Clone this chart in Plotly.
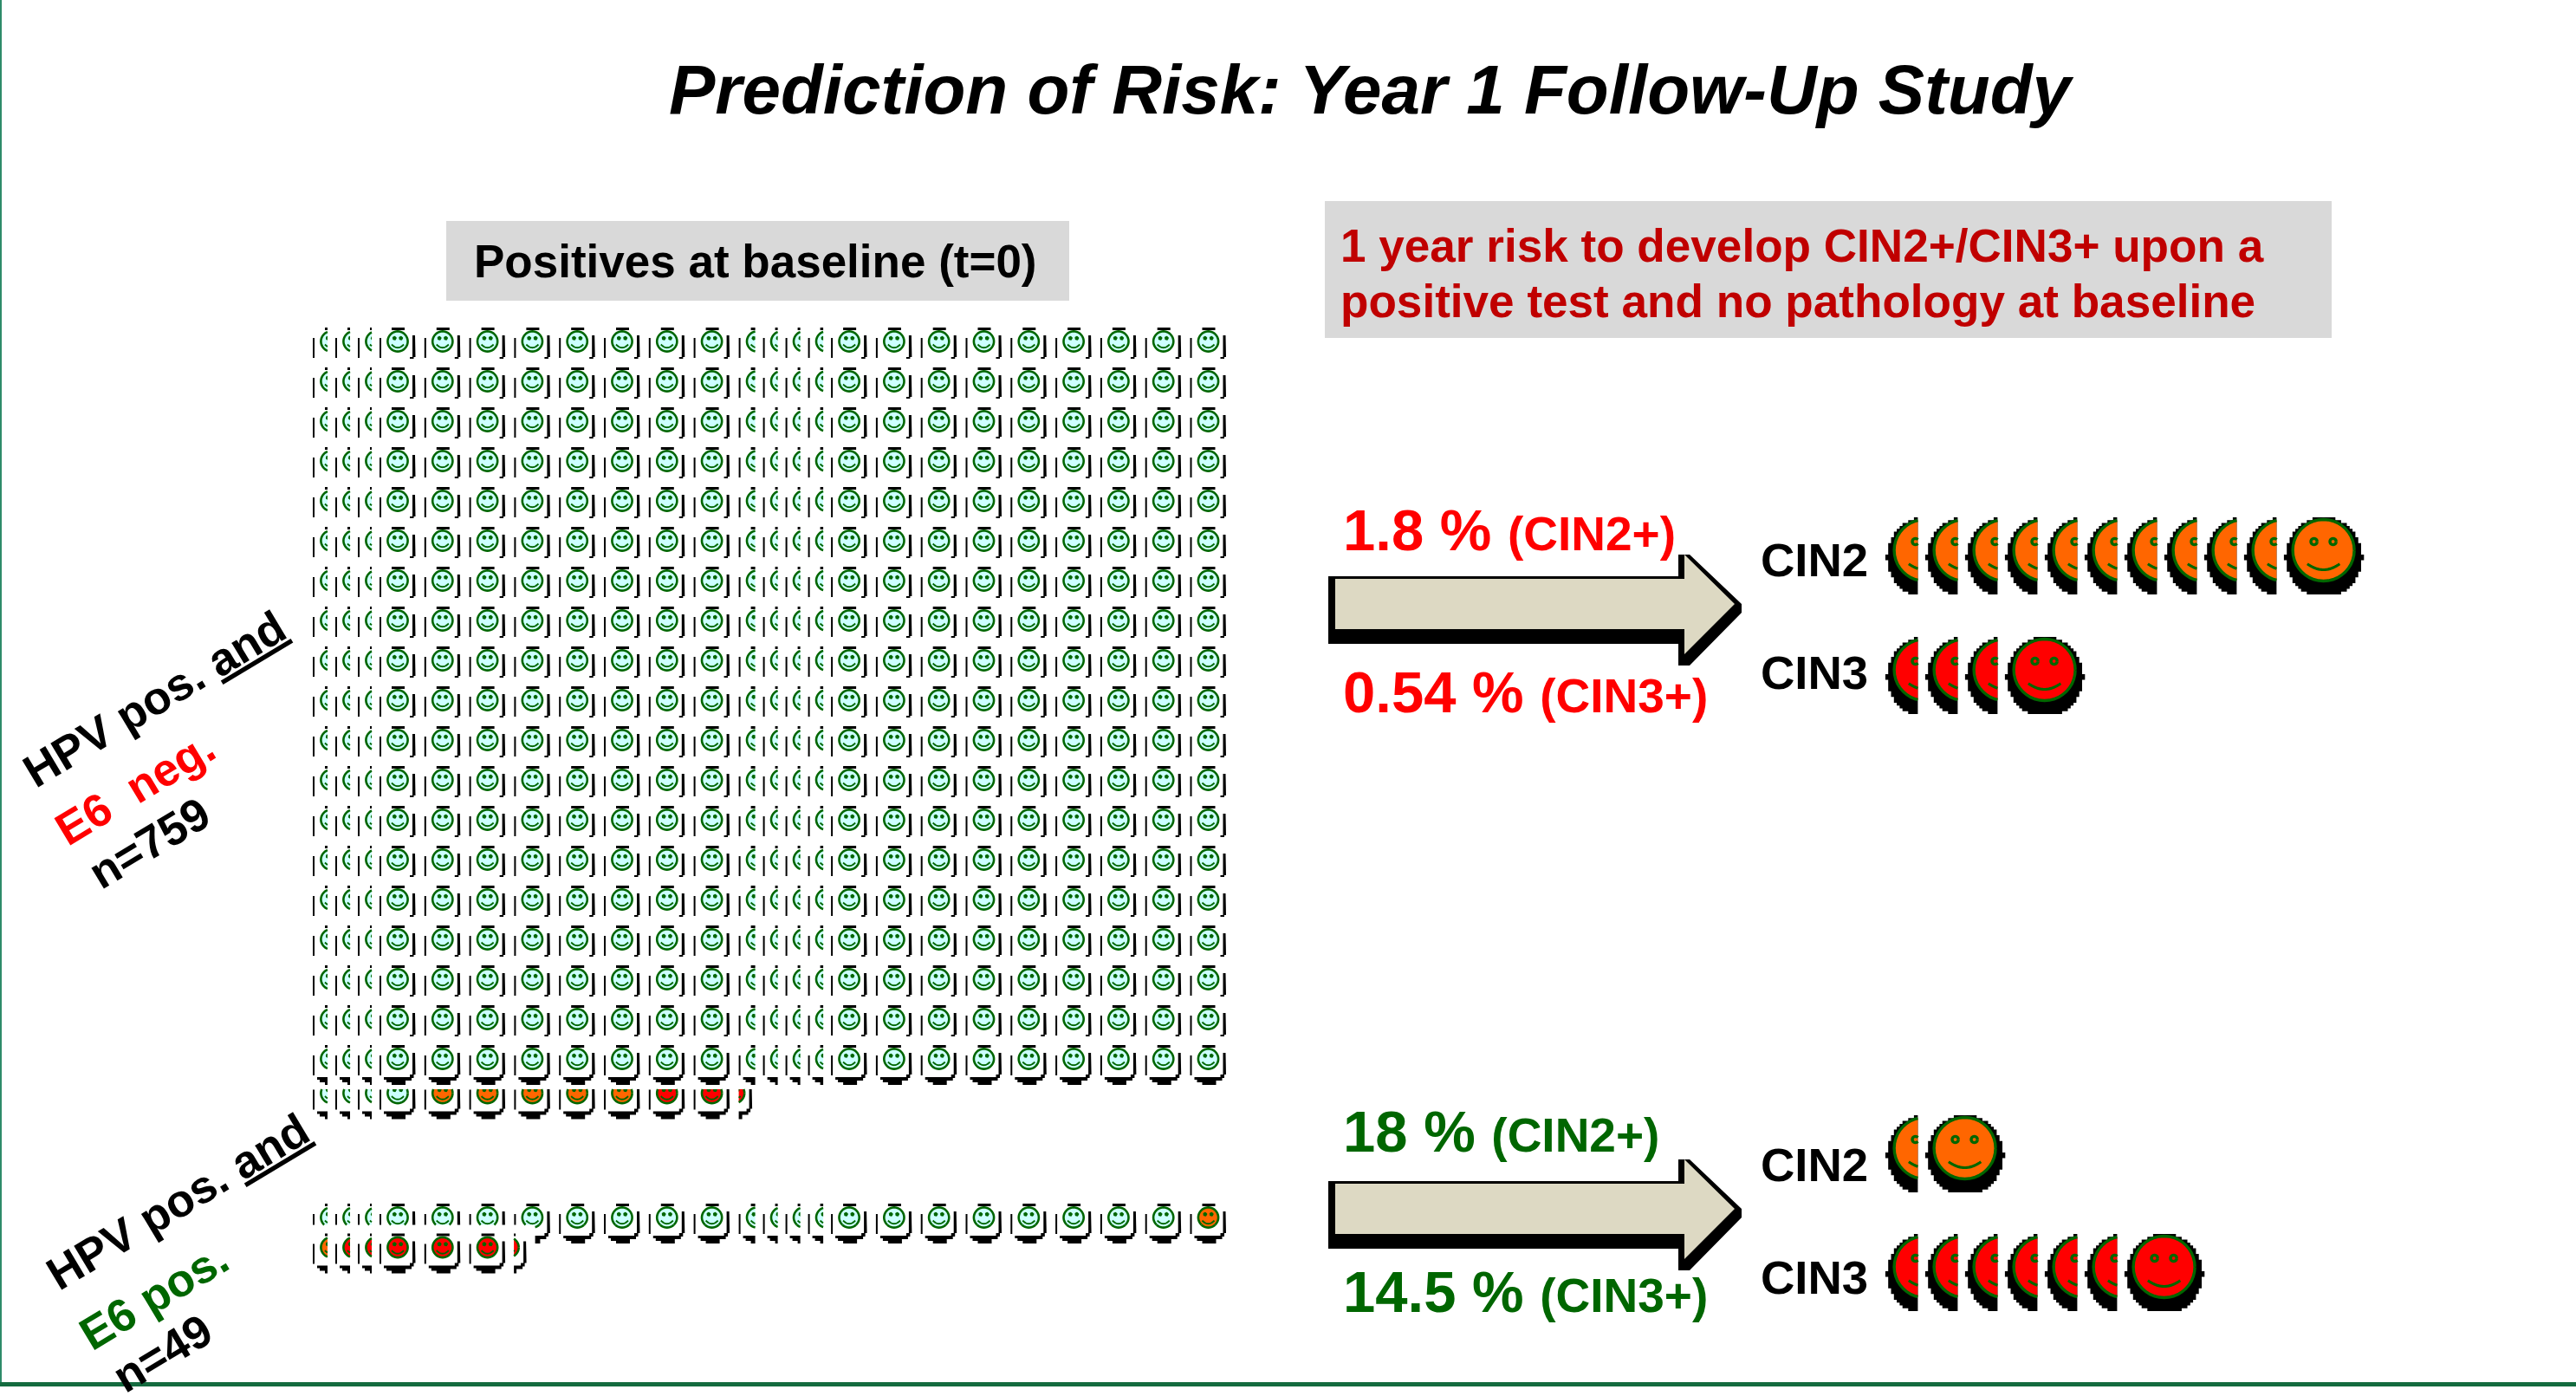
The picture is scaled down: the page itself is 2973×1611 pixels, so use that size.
import math
import plotly.graph_objects as go

# ---- data -------------------------------------------------------------
# Outcome of each woman on the two sheets: well, cin2 or cin3.
neg_full_rows = 19
neg_columns = 24
neg_last_row = ["well"] * 4 + ["cin2"] * 5 + ["cin3"] * 2
neg_last_fragment = "cin3"

pos_first_row = ["well"] * 23 + ["cin2"]
pos_second_row = ["cin2"] + ["cin3"] * 5
pos_second_fragment = "cin3"

# Cases per outcome, upper and lower panel.
panel_cin2_counts = [11, 2]
panel_cin3_counts = [4, 7]

risk_major = ["1.8 %", "0.54 %", "18 %", "14.5 %"]
risk_minor = ["(CIN2+)", "(CIN3+)", "(CIN2+)", "(CIN3+)"]
outcome_labels = ["CIN2", "CIN3", "CIN2", "CIN3"]

# ---- canvas and palette -----------------------------------------------
W, H = 2973, 1611
FONT = "Liberation Sans"
DARK_GREEN = "#006600"
RED = "#FF0000"
BOX_GREY = "#D9D9D9"
FILLS = {"well": "#CCFFFF", "cin2": "#FF6600", "cin3": "#FF0000"}

# Sheet geometry: column spacing runs through overlapping blocks.
col_steps = [26, 26, 25] + [51.8] * 7 + [52, 28, 26, 26, 26.5] + [51.8] * 8
col_x = [382.0]
for step in col_steps:
    col_x.append(col_x[-1] + step)
ROW_PITCH = 46
NEG_TOP = 394
NEG_LAST_Y = 1261.5
NEG_LAST_CROP = 1257
POS_Y = [1405, 1439.5]
FRAGMENT_STEP = 24.5

SMALL = dict(r=11.6, lw=2.6, ex=3.7, ey=-3.7, er=2.5, sm_x=7, sm_y=3.5, sm_b=7.2, ring=False)
LARGE = dict(r=35.5, lw=3.4, sx=44.6, sy=46, sdx=0.5, sdy=8, ex=11, ey=-10, er=3.6,
             sm_x=18.7, sm_y=15.7, sm_b=22.5, block=3.3, ring=True)

# What remains of a small face's drop shadow once its white backing hides the rest,
# given relative to the face centre.
SHADOW_LEFT = [(-21, -4), (-19, -4), (-19, 19), (-21, 19)]
SHADOW_TOP = [(-7, -16), (8, -16), (8, -13), (-7, -13)]
SHADOW_RIGHT_FOOT = [(17, -7), (20, -7), (20.5, 18), (18.5, 18), (18.5, 22), (16, 22), (16, 25), (9, 25),
                     (9, 30), (-7, 30), (-7, 27), (-13, 27), (-13, 24), (-16, 24), (-16, 21),
                     (14, 21), (14, 18), (17, 18)]


# ---- geometry helpers --------------------------------------------------
def ellipse(cx, cy, rx, ry, n=40):
    return [(cx + rx * math.cos(2 * math.pi * i / n), cy + ry * math.sin(2 * math.pi * i / n))
            for i in range(n + 1)]


def blocky_ellipse(cx, cy, rx, ry, block):
    """Ellipse outline snapped to square blocks, as a low-resolution drop shadow."""
    rows = int(2 * ry / block)
    right, left = [], []
    for k in range(rows):
        top = cy - ry + k * block
        mid = top + block / 2
        half = rx * math.sqrt(max(0.0, 1 - ((mid - cy) / ry) ** 2))
        half = round(half / block) * block
        right += [(cx + half, top), (cx + half, top + block)]
        left += [(cx - half, top), (cx - half, top + block)]
    return right + left[::-1] + [right[0]]


def clip_polygon(points, rect):
    x0, x1, y0, y1 = rect
    planes = [
        (lambda p: p[0] >= x0, lambda a, b: (x0, a[1] + (b[1] - a[1]) * (x0 - a[0]) / (b[0] - a[0]))),
        (lambda p: p[0] <= x1, lambda a, b: (x1, a[1] + (b[1] - a[1]) * (x1 - a[0]) / (b[0] - a[0]))),
        (lambda p: p[1] >= y0, lambda a, b: (a[0] + (b[0] - a[0]) * (y0 - a[1]) / (b[1] - a[1]), y0)),
        (lambda p: p[1] <= y1, lambda a, b: (a[0] + (b[0] - a[0]) * (y1 - a[1]) / (b[1] - a[1]), y1)),
    ]
    out = points
    for inside, cross in planes:
        if not out:
            return []
        kept = []
        for i, cur in enumerate(out):
            prev = out[i - 1]
            if inside(cur):
                if not inside(prev):
                    kept.append(cross(prev, cur))
                kept.append(cur)
            elif inside(prev):
                kept.append(cross(prev, cur))
        out = kept
    return out


def clip_polyline(points, rect):
    x0, x1, y0, y1 = rect
    pieces, current = [], []
    for a, b in zip(points, points[1:]):
        t0, t1 = 0.0, 1.0
        dx, dy = b[0] - a[0], b[1] - a[1]
        ok = True
        for p, q in ((-dx, a[0] - x0), (dx, x1 - a[0]), (-dy, a[1] - y0), (dy, y1 - a[1])):
            if p == 0:
                ok = ok and q >= 0
            else:
                t = q / p
                if p < 0:
                    t0 = max(t0, t)
                else:
                    t1 = min(t1, t)
        if not ok or t0 > t1:
            if current:
                pieces.append(current)
                current = []
            continue
        s = (a[0] + t0 * dx, a[1] + t0 * dy)
        e = (a[0] + t1 * dx, a[1] + t1 * dy)
        if current and t0 == 0.0:
            current.append(e)
        else:
            if current:
                pieces.append(current)
            current = [s, e]
        if t1 < 1.0:
            pieces.append(current)
            current = []
    if current:
        pieces.append(current)
    return pieces


# One list of runs per painting layer; a run is a list of points.
layer_names = ["shadow", "well", "cin2", "cin3",
               "outline_small", "outline_large", "eye_small", "smile_small", "smile_large"]
layers = {name: [] for name in layer_names}


def add_poly(name, pts, rect):
    clipped = clip_polygon(pts, rect)
    if clipped:
        layers[name].append(clipped)


def add_line(name, pts, rect):
    layers[name].extend(clip_polyline(pts, rect))


def draw_face(cx, cy, state, g, rects):
    size = "large" if g["ring"] else "small"
    for rect in rects:
        if g["ring"]:
            add_poly("shadow", blocky_ellipse(cx + g["sdx"], cy + g["sdy"], g["sx"], g["sy"], g["block"]), rect)
        else:
            for piece in (SHADOW_LEFT, SHADOW_TOP, SHADOW_RIGHT_FOOT):
                add_poly("shadow", [(cx + dx, cy + dy) for dx, dy in piece], rect)
        add_poly(state, ellipse(cx, cy, g["r"], g["r"]), rect)
        add_line("outline_" + size, ellipse(cx, cy, g["r"], g["r"]), rect)
        for side in (-1, 1):
            eye = ellipse(cx + side * g["ex"], cy + g["ey"], g["er"], g["er"], 20)
            if g["ring"]:
                add_line("outline_large", eye, rect)
            else:
                add_poly("eye_small", eye, rect)
        arc = [(cx + g["sm_x"] * t / 10,
                cy + g["sm_b"] - (g["sm_b"] - g["sm_y"]) * (t / 10) ** 2) for t in range(-10, 11)]
        add_line("smile_" + size, arc, rect)


INF = 1e6


def sheet_cell(col, cy, next_y, state, top=None, bottom=None):
    cx = col_x[col]
    right = col_x[col + 1] - 30 if col + 1 < len(col_x) else INF
    y0 = cy - 26 if top is None else top
    y1 = next_y - 26 if bottom is None else bottom
    draw_face(cx, cy, state, SMALL, [(cx - 30, right, y0, y1)])


# E6-negative sheet: complete rows, then a last row cropped at the top.
for row in range(neg_full_rows):
    cy = NEG_TOP + row * ROW_PITCH
    is_last = row == neg_full_rows - 1
    for col in range(neg_columns):
        sheet_cell(col, cy, cy + ROW_PITCH, "well", bottom=INF if is_last else None)
for col, state in enumerate(neg_last_row):
    sheet_cell(col, NEG_LAST_Y, INF, state, top=NEG_LAST_CROP, bottom=INF)
frag_x = col_x[len(neg_last_row) - 1] + FRAGMENT_STEP + 1.5
draw_face(frag_x, NEG_LAST_Y, neg_last_fragment, SMALL, [(frag_x + 5, INF, NEG_LAST_CROP, INF)])

# E6-positive sheet: the second row hides the feet of the first one only where it reaches.
second_edge = col_x[len(pos_second_row) - 1] + 55
for col, state in enumerate(pos_first_row):
    cx = col_x[col]
    right = col_x[col + 1] - 30 if col + 1 < len(col_x) else INF
    cut = POS_Y[1] - 26
    rects = [(cx - 30, right, POS_Y[0] - 26, cut)]
    if cx + 30 > second_edge:
        rects.append((max(cx - 30, second_edge), right, cut, INF))
    draw_face(cx, POS_Y[0], state, SMALL, rects)
for col, state in enumerate(pos_second_row):
    sheet_cell(col, POS_Y[1], INF, state, bottom=INF)
frag_x = col_x[len(pos_second_row) - 1] + FRAGMENT_STEP
draw_face(frag_x, POS_Y[1], pos_second_fragment, SMALL, [(frag_x + 6, INF, POS_Y[1] - 26, INF)])

# Outcome rows next to the arrows: overlapped faces, the last one shown whole.
LARGE_STEP = 46
LARGE_LEFT = 2221.6
LARGE_CLIP = 44.6 - 36.4
row_centres = [635, 773, 1325, 1462]
row_cases = [panel_cin2_counts[0], panel_cin3_counts[0], panel_cin2_counts[1], panel_cin3_counts[1]]
row_states = ["cin2", "cin3", "cin2", "cin3"]
for cy, count, state in zip(row_centres, row_cases, row_states):
    for i in range(count):
        cx = LARGE_LEFT + i * LARGE_STEP
        right = cx - LARGE_CLIP if i < count - 1 else INF
        draw_face(cx, cy, state, LARGE, [(cx - 60, right, cy - 60, cy + 70)])

# ---- figure ------------------------------------------------------------
fig = go.Figure()


def add_runs(points_runs, fill=None, line=None, width=0):
    xs, ys = [], []
    for run in points_runs:
        xs += [p[0] for p in run] + [run[0][0], None] if fill else [p[0] for p in run] + [None]
        ys += [p[1] for p in run] + [run[0][1], None] if fill else [p[1] for p in run] + [None]
    kw = dict(x=xs, y=ys, mode="lines", hoverinfo="skip", showlegend=False)
    if fill:
        kw.update(fill="toself", fillcolor=fill, line=dict(width=0, color=fill))
    else:
        kw.update(line=dict(color=line, width=width, simplify=False))
    fig.add_trace(go.Scatter(**kw))


# Arrow outlines are offsets from the tip of the upper arrow.
arrow_back = [(1533, 665), (1937, 665), (1937, 640), (1950, 640), (2010, 697), (2010, 707),
              (1950, 768), (1937, 768), (1937, 743), (1533, 743)]
arrow_face = [(1541, 668), (1944, 668), (1944, 640), (2002, 697), (1944, 755), (1944, 726), (1541, 726)]
ARROW_SHIFT = [0, 698]
for shift in ARROW_SHIFT:
    add_runs([[(x, y + shift) for x, y in arrow_back]], fill="#000000")
    add_runs([[(x, y + shift) for x, y in arrow_face]], fill="#DDD9C3")

add_runs(layers["shadow"], fill="#000000")
for state in FILLS:
    add_runs(layers[state], fill=FILLS[state])
add_runs(layers["outline_small"], line=DARK_GREEN, width=SMALL["lw"])
add_runs(layers["eye_small"], fill=DARK_GREEN)
add_runs(layers["smile_small"], line=DARK_GREEN, width=1.9)
add_runs(layers["outline_large"], line=DARK_GREEN, width=LARGE["lw"])
add_runs(layers["smile_large"], line=DARK_GREEN, width=3.2)

# Grey panels and frame lines.
shapes = [
    dict(type="rect", x0=515, x1=1234, y0=255, y1=347, fillcolor=BOX_GREY, line_width=0, layer="below"),
    dict(type="rect", x0=1529, x1=2691, y0=232, y1=390, fillcolor=BOX_GREY, line_width=0, layer="below"),
    dict(type="rect", x0=0, x1=2, y0=0, y1=1600, fillcolor="#2E8B6A", line_width=0, layer="above"),
    dict(type="rect", x0=0, x1=W, y0=1595, y1=1600, fillcolor="#146B3F", line_width=0, layer="above"),
]


def label(text, x, baseline, size, color="#000000", italic=False, anchor="left"):
    fig.add_annotation(
        x=x, y=baseline - 0.3465 * size, text=text, showarrow=False, xanchor=anchor, yanchor="middle",
        borderpad=0, borderwidth=0,
        font=dict(family=FONT, size=size, color=color, weight="bold", style="italic" if italic else "normal"),
    )


def tilted(text, x, y, size, color="#000000"):
    fig.add_annotation(
        x=x, y=y, text=text, showarrow=False, xanchor="center", yanchor="middle", textangle=-31,
        font=dict(family=FONT, size=size, color=color, weight="bold"),
    )


label("Prediction of Risk: Year 1 Follow-Up Study", 772, 131, 80, italic=True)
label("Positives at baseline (t=0)", 547, 320, 53)
label("1 year risk to develop CIN2+/CIN3+ upon a", 1547, 302, 53.1, "#C00000")
label("positive test and no pathology at baseline", 1547, 366, 53.1, "#C00000")

risk_baselines = [635, 822, 1329, 1514]
risk_colors = [RED, RED, DARK_GREEN, DARK_GREEN]
for major, minor, base, color in zip(risk_major, risk_minor, risk_baselines, risk_colors):
    label(f'{major} <span style="font-size:55px">{minor}</span>', 1550, base, 67, color)

cin_baselines = [665, 795, 1363, 1493]
for text, base in zip(outcome_labels, cin_baselines):
    label(text, 2032, base, 54.5)

tilted("HPV pos. <u>and</u>", 178, 806, 53)
tilted("E6  neg.", 155, 909, 53, RED)
tilted("n=759", 172, 972, 53)
tilted("HPV pos. <u>and</u>", 205, 1386, 53)
tilted("E6 pos.", 177, 1495, 53, DARK_GREEN)
tilted("n=49", 187, 1561, 53)

fig.update_layout(
    width=W, height=H, margin=dict(l=0, r=0, t=0, b=0), paper_bgcolor="#FFFFFF", plot_bgcolor="#FFFFFF",
    showlegend=False, shapes=shapes,
    xaxis=dict(range=[0, W], visible=False, fixedrange=True),
    yaxis=dict(range=[H, 0], visible=False, fixedrange=True),
)
fig.write_html("out.html", config={"displayModeBar": False})
